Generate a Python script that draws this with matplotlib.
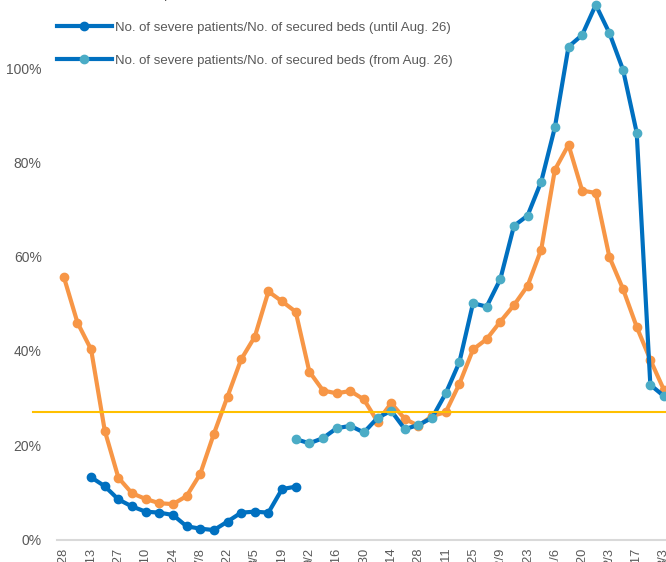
import numpy as np
import matplotlib
matplotlib.use("Agg")
import matplotlib.pyplot as plt

plt.rcParams['font.family'] = ['Liberation Sans', 'DejaVu Sans']

# tick labels (every other weekly point)
tick_labels = ["4/28", "5/13", "5/27", "6/10", "6/24", "7/8", "7/22", "8/5",
               "8/19", "9/2", "9/16", "9/30", "10/14", "10/28", "11/11",
               "11/25", "12/9", "12/23", "1/6", "1/20", "2/3", "2/17", "3/3"]

# inpatients / secured beds (%)
inpatients = [55.7, 46.0, 40.3, 23.1, 13.1, 9.8, 8.6, 7.7, 7.5, 9.2,
              13.9, 22.4, 30.3, 38.2, 43.0, 52.6, 50.5, 48.3, 35.6, 31.6,
              31.0, 31.5, 29.7, 25.0, 28.9, 25.6, 24.1, 26.2, 27.0, 33.0,
              40.3, 42.5, 46.2, 49.7, 53.8, 61.5, 78.4, 83.7, 74.0, 73.5,
              59.9, 53.1, 45.1, 38.1, 31.7]

# severe patients / secured beds (%), until Aug. 26 (starts at week 2)
severe_until = [13.2, 11.3, 8.5, 7.0, 5.9, 5.7, 5.2, 2.8, 2.3, 2.0,
                3.8, 5.7, 5.9, 5.7, 10.7, 11.2]

# severe patients / secured beds (%), from Aug. 26 (starts at week 17)
severe_from = [21.3, 20.4, 21.5, 23.6, 24.1, 22.7, 25.8, 27.3, 23.4, 24.3,
               25.8, 31.0, 37.6, 50.1, 49.4, 55.2, 66.5, 68.7, 75.9, 87.4,
               104.5, 107.0, 113.4, 107.4, 99.6, 86.3, 32.8, 30.4]

ref_level = 27.0

ORANGE = "#F79646"
BLUE = "#0070C0"
LBLUE = "#4BACC6"
GRAY_TXT = "#595959"

W, H = 666, 562
fig = plt.figure(figsize=(W / 100, H / 100), dpi=100)

x_lo, x_hi = -0.5, 48
step_px = 13.64
ax_left = 57
ax_bottom = 539.5
y_px_per = 4.715
ax_w = (x_hi - x_lo) * step_px
ax_h = 120 * y_px_per
ax = fig.add_axes([ax_left / W, (H - ax_bottom) / H, ax_w / W, ax_h / H])

x_in = np.arange(len(inpatients))
x_until = np.arange(2, 2 + len(severe_until))
x_from = np.arange(17, 17 + len(severe_from))

lw = 3.0
ms = 6.0
l1, = ax.plot(x_in, inpatients, color=ORANGE, lw=lw, marker='o', ms=ms,
              mec=ORANGE, mfc=ORANGE, solid_joinstyle='round',
              label="No. of inpatients/No. of secured beds", zorder=3)
l2, = ax.plot(x_until, severe_until, color=BLUE, lw=lw, marker='o', ms=ms,
              mec=BLUE, mfc=BLUE, solid_joinstyle='round',
              label="No. of severe patients/No. of secured beds (until Aug. 26)", zorder=4)
l3, = ax.plot(x_from, severe_from, color=BLUE, lw=lw, marker='o', ms=ms,
              mec=LBLUE, mfc=LBLUE, solid_joinstyle='round',
              label="No. of severe patients/No. of secured beds (from Aug. 26)", zorder=4)

# reference line, drawn a little past the left edge of the plot
ax.axhline(ref_level, xmin=-24 / ax_w, xmax=1, color="#FFC000", lw=1.5,
           clip_on=False, zorder=5)

ax.set_xlim(x_lo, x_hi)
ax.set_ylim(0, 120)
ax.set_yticks(np.arange(0, 121, 20))
ax.set_yticklabels([f"{v}%" for v in range(0, 121, 20)])
ax.set_xticks(np.arange(0, len(inpatients), 2))
ax.set_xticklabels(tick_labels, rotation=90)

for s in ["top", "right", "left"]:
    ax.spines[s].set_visible(False)
ax.spines["bottom"].set_color("#D9D9D9")
ax.spines["bottom"].set_linewidth(1.5)
ax.tick_params(axis='y', length=0, pad=11, labelsize=10, labelcolor=GRAY_TXT)
ax.tick_params(axis='x', length=0, pad=6, labelsize=9.3, labelcolor=GRAY_TXT)

fig.legend(handles=[l1, l2, l3], loc='center left',
           bbox_to_anchor=(57 / W, (H - 28) / H), frameon=False,
           fontsize=9.5, labelcolor=GRAY_TXT, borderpad=0, borderaxespad=0,
           handlelength=4.15, handletextpad=0.23, labelspacing=1.56)

fig.savefig("out.png", dpi=100)
